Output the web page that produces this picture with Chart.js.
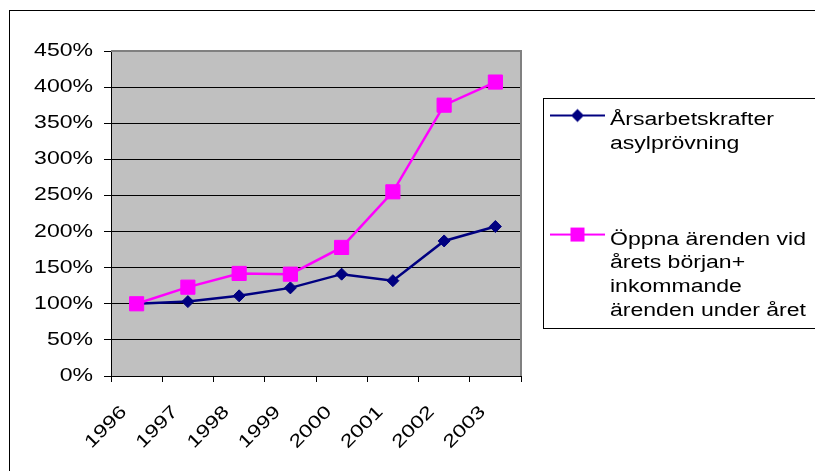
<!DOCTYPE html>
<html>
<head>
<meta charset="utf-8">
<script src="https://cdn.jsdelivr.net/npm/chart.js@4"></script>
<style>
  html, body { margin: 0; padding: 0; background: #fff; }
  canvas { display: block; }
</style>
</head>
<body>
<canvas id="chart" width="815" height="471"></canvas>
<script>
// ---- data -------------------------------------------------------------
const years = ['1996', '1997', '1998', '1999', '2000', '2001', '2002', '2003'];
const staffYears = [100, 103, 111, 122, 141, 132, 187, 207];   // Årsarbetskrafter asylprövning, % of 1996
const caseLoad = [100, 123, 142, 141, 178, 255, 375, 407];     // öppna + inkommande ärenden, % of 1996
const staffLegend = ['Årsarbetskrafter', 'asylprövning'];
const caseLegend = ['Öppna ärenden vid', 'årets början+', 'inkommande', 'ärenden under året'];
const yTickStep = 50;
const yMax = 450;

// ---- style ------------------------------------------------------------
const NAVY = '#000080';
const MAGENTA = '#FF00FF';
const FONT = { family: '"Liberation Sans", Arial, sans-serif', size: 18 };
const TEXT_STRETCH = 1.28;          // glyphs are set in a wide cut
const LEGEND_FONT = { family: FONT.family, size: 18, lineHeight: 1.32 };
const LEGEND_PAD = 24;
const LEGEND_SPACER = 36.5;
const LEGEND_BOX = 56;

const canvas = document.getElementById('chart');
const g2d = canvas.getContext('2d');

// Wide text: every label is scaled along its own baseline (also when rotated)
// and measured accordingly so the layout reserves the right room.
const nativeFillText = g2d.fillText;
const nativeMeasureText = g2d.measureText;
g2d.fillText = function (text, x, y) {
  this.save();
  this.translate(x, y);
  this.scale(TEXT_STRETCH, 1);
  nativeFillText.call(this, text, 0, 0);
  this.restore();
};
g2d.measureText = function (text) {
  const m = nativeMeasureText.call(this, text);
  return {
    width: m.width * TEXT_STRETCH,
    actualBoundingBoxLeft: m.actualBoundingBoxLeft * TEXT_STRETCH,
    actualBoundingBoxRight: m.actualBoundingBoxRight * TEXT_STRETCH,
    actualBoundingBoxAscent: m.actualBoundingBoxAscent,
    actualBoundingBoxDescent: m.actualBoundingBoxDescent,
    fontBoundingBoxAscent: m.fontBoundingBoxAscent,
    fontBoundingBoxDescent: m.fontBoundingBoxDescent
  };
};

// Legend key: a short line with the series marker in its middle.
function legendKey(color, shape) {
  const half = LEGEND_BOX / 2;
  const right = half + LEGEND_FONT.size / 2 - 5;
  const left = right - 55;
  const w = 2 * Math.ceil(Math.max(-left, right)) + 2;
  const h = 30;
  const c = document.createElement('canvas');
  c.width = w; c.height = h;
  const k = c.getContext('2d');
  const cx = w / 2, cy = 10;
  k.strokeStyle = color;
  k.fillStyle = color;
  k.lineWidth = 2;
  k.beginPath();
  k.moveTo(cx + left, cy);
  k.lineTo(cx + right, cy);
  k.stroke();
  const mx = cx + (left + right) / 2;
  k.beginPath();
  if (shape === 'diamond') {
    k.moveTo(mx, cy - 6.5); k.lineTo(mx + 6.5, cy); k.lineTo(mx, cy + 6.5); k.lineTo(mx - 6.5, cy);
  } else {
    k.rect(mx - 7, cy - 7, 14, 14);
  }
  k.closePath();
  k.fill();
  return c;
}

const chartDecor = {
  id: 'chartDecor',
  beforeDraw(chart) {
    const { ctx, chartArea: a, legend } = chart;
    // the legend column keeps its narrow layout slot but may paint up to the canvas edge
    legend.right = chart.width;
    legend.width = legend.right - legend.left;
    ctx.save();
    ctx.fillStyle = '#C0C0C0';
    ctx.fillRect(a.left, a.top, a.right - a.left, a.bottom - a.top);
    ctx.strokeStyle = '#000';
    ctx.lineWidth = 1;
    ctx.strokeRect(9.5, 10.5, chart.width + 40, chart.height + 40);
    ctx.restore();
  },
  beforeDatasetsDraw(chart) {
    const { ctx, chartArea: a } = chart;
    ctx.save();
    ctx.strokeStyle = '#808080';
    ctx.lineWidth = 2;
    ctx.beginPath();
    ctx.moveTo(a.left, a.top);
    ctx.lineTo(a.right, a.top);
    ctx.lineTo(a.right, a.bottom);
    ctx.stroke();
    ctx.restore();
  },
  afterDraw(chart) {
    const { ctx, legend } = chart;
    const L = LEGEND_FONT.size * LEGEND_FONT.lineHeight;
    const firstY = legend.top + LEGEND_SPACER + LEGEND_PAD;
    const top = Math.round(firstY - 13.5) + 0.5;
    const bottom = Math.round(firstY + LEGEND_FONT.size / 2 + 7 * L + LEGEND_PAD + 17) + 0.5;
    const left = Math.round(legend.left + 22) + 0.5;
    ctx.save();
    ctx.strokeStyle = '#000';
    ctx.lineWidth = 1;
    ctx.strokeRect(left, top, chart.width + 40 - left, bottom - top);
    ctx.restore();
  }
};

new Chart(g2d, {
  type: 'line',
  data: {
    labels: years,
    datasets: [
      {
        label: staffLegend.join(' '),
        data: staffYears,
        order: 1,
        borderColor: NAVY,
        backgroundColor: NAVY,
        borderWidth: 2.5,
        pointStyle: 'rectRot',
        pointRadius: 6,
        pointHoverRadius: 6,
        pointBorderWidth: 1,
        pointBackgroundColor: NAVY,
        pointBorderColor: NAVY,
        tension: 0
      },
      {
        label: caseLegend.join(' '),
        data: caseLoad,
        order: 0,
        borderColor: MAGENTA,
        backgroundColor: MAGENTA,
        borderWidth: 2.5,
        pointStyle: 'rect',
        pointRadius: 10,
        pointHoverRadius: 10,
        pointBorderWidth: 1,
        pointBackgroundColor: MAGENTA,
        pointBorderColor: MAGENTA,
        tension: 0
      }
    ]
  },
  options: {
    responsive: false,
    animation: false,
    devicePixelRatio: 1,
    events: [],
    layout: { padding: { left: 33, top: 51, right: 174, bottom: 0 } },
    plugins: {
      tooltip: { enabled: false },
      legend: {
        position: 'right',
        align: 'start',
        fullSize: false,
        maxWidth: 120,
        title: { display: true, text: '', font: { size: 1, lineHeight: 1 }, padding: { top: LEGEND_SPACER - 1, bottom: 0 } },
        labels: {
          color: '#000',
          font: LEGEND_FONT,
          padding: LEGEND_PAD,
          usePointStyle: true,
          pointStyleWidth: LEGEND_BOX,
          generateLabels: () => [
            { text: staffLegend.concat(['', '']), pointStyle: legendKey(NAVY, 'diamond'), fontColor: '#000', datasetIndex: 0, hidden: false, lineWidth: 0 },
            { text: caseLegend, pointStyle: legendKey(MAGENTA, 'square'), fontColor: '#000', datasetIndex: 1, hidden: false, lineWidth: 0 }
          ]
        }
      }
    },
    scales: {
      x: {
        offset: true,
        ticks: {
          color: '#000',
          font: FONT,
          minRotation: 45,
          maxRotation: 45,
          autoSkip: false,
          padding: 19.5,
          labelOffset: -12.5
        },
        grid: { offset: true, drawOnChartArea: false, color: '#000', lineWidth: 1, tickLength: 6 },
        border: { display: true, color: '#000', width: 1 },
        afterFit: (s) => { s.height = 95; }
      },
      y: {
        min: 0,
        max: yMax,
        ticks: {
          stepSize: yTickStep,
          color: '#000',
          font: FONT,
          padding: 11,
          callback: (v) => v + '%'
        },
        grid: { color: '#000', lineWidth: 1, tickLength: 7 },
        border: { display: true, color: '#000', width: 1 },
        afterFit: (s) => { s.width = 78; }
      }
    }
  },
  plugins: [chartDecor]
});
</script>
</body>
</html>
